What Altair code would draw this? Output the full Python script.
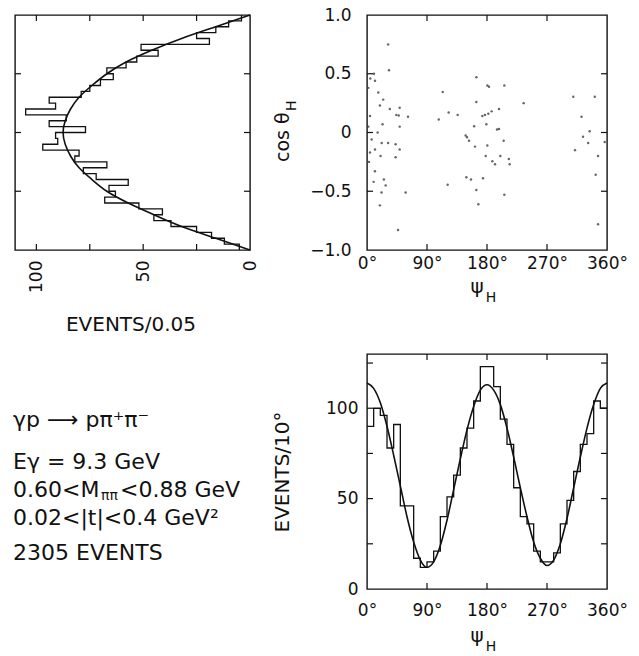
import altair as alt
import pandas as pd

FONT = "DejaVu Sans"

# ---------------- data ----------------
cos_bin_width = 0.05
cos_hist_counts = [4, 10, 16, 25, 19, 51, 43, 53, 58, 67, 64, 70, 75, 79, 94, 91, 105, 86, 94, 77,
                   91, 90, 97, 80, 82, 67, 78, 72, 57, 66, 63, 68, 52, 41, 45, 37, 25, 18, 12, 5]
cos_curve_c = [1.0, 0.9, 0.8, 0.7, 0.6, 0.5, 0.4, 0.3, 0.2, 0.1, 0.0,
               -0.1, -0.2, -0.3, -0.4, -0.5, -0.6, -0.7, -0.8, -0.9, -1.0]
cos_curve_n = [0, 16, 32, 46, 58, 67, 74, 80, 84, 86.5, 87.5,
               86.5, 84, 80, 74, 67, 57, 45, 32, 16, 0]

psi_bin_width = 10
psi_hist_counts = [90, 100, 96, 78, 91, 46, 46, 17, 12, 15, 21, 40, 51, 63, 78, 89, 104, 123,
                   123, 112, 94, 80, 56, 40, 36, 21, 15, 15, 20, 36, 49, 65, 80, 86, 104, 100]
psi_curve_deg = [0, 10, 20, 30, 40, 50, 60, 70, 80, 90, 100, 110, 120, 130, 140, 150, 160, 170,
                 180, 190, 200, 210, 220, 230, 240, 250, 260, 270, 280, 290, 300, 310, 320, 330,
                 340, 350, 360]
psi_curve_n = [114, 111, 103, 90, 74, 57, 40, 26, 16, 12, 15, 24, 38, 55, 72, 88, 101, 110,
               113, 110, 102, 89, 73, 56, 40, 26, 17, 13, 16, 25, 39, 56, 73, 89, 102, 111, 114]

scatter_psi = [31.7, 33, 10.4, 12, 5, 16.9, 24.3, 19.3, 34.2, 49, 44, 47.6, 61.5, 23.3, 49, 4.5,
               16, 7, 22, 31.7, 43, 12, 49, 43, 20.3, 4.5, 11.9, 10, 25.3, 28, 21.8, 58, 19.3,
               46.6, 2, 3, 2,
               107.6, 113.6, 122.5, 136, 121, 164, 164, 180.5, 183, 160.7, 148, 153, 150, 162,
               180.5, 178, 149, 156, 174, 164, 167, 173, 177, 182, 187, 179, 188, 192, 206, 235,
               198, 198, 205, 200, 212.7, 214, 206, 195,
               309.4, 341.7, 321.8, 334, 324, 331.8, 312, 346.6, 343, 346.6, 356.6]
scatter_cos = [0.75, 0.53, 0.50, 0.44, 0.46, 0.34, 0.28, 0.23, 0.20, 0.21, 0.15, 0.145, 0.134,
               0.07, 0.05, 0.14, 0.0, -0.06, -0.09, -0.09, -0.10, -0.145, -0.145, -0.21, -0.20,
               -0.17, -0.33, -0.42, -0.40, -0.45, -0.51, -0.51, -0.62, -0.83, 0.38, -0.25, 0.05,
               0.11, 0.345, 0.17, 0.15, -0.445, 0.47, 0.26, 0.40, 0.39, 0.054, -0.026, -0.07,
               -0.04, -0.12, -0.11, -0.20, -0.38, -0.40, -0.39, -0.49, -0.61, 0.14, 0.15, 0.16,
               0.18, 0.07, -0.245, -0.27, 0.40, 0.25, 0.20, 0.03, -0.07, -0.20, -0.225, -0.27,
               -0.53, 0.026,
               0.305, 0.305, 0.134, 0.01, -0.037, -0.09, -0.15, -0.20, -0.36, -0.78, -0.08]

events_ticks_a = [25, 50, 75, 100]
events_labels_a = [0, 50, 100]
cos_ticks = [-0.5, 0, 0.5]
cos_labels = [-1, -0.5, 0, 0.5, 1]
psi_ticks = [90, 180, 270]
psi_labels = [0, 90, 180, 270, 360]
events_ticks_b = [25, 50, 75, 100, 125]
events_labels_b = [0, 50, 100]

legend_text = ["γp ⟶ pπ⁺π⁻", "Eγ = 9.3 GeV", "0.60<M", "ππ", "<0.88 GeV",
               "0.02<|t|<0.4 GeV²", "2305 EVENTS"]
title_a = "EVENTS/0.05"
title_b = "EVENTS/10°"
title_psi = ["ψ", "H"]
title_cos = ["cos θ", "H"]

# ---------------- layout (pixels) ----------------
WA, WB, H = 235, 240, 235
TL = 6
INK = "#111111"
legend_x = [-2, -2, -2, 86, 105, -2, -2]
legend_y = [66, 108, 136, 142, 136, 164, 199]
legend_size = [22, 22, 22, 14, 22, 22, 22]

one = pd.DataFrame({"a": [0]})


def txt(s, x, y, size=19, angle=0, align="center", baseline="middle"):
    return alt.Chart(one).mark_text(
        font=FONT, fontSize=size, angle=angle, align=align, baseline=baseline, color=INK
    ).encode(x=alt.value(x), y=alt.value(y), text=alt.value(s))


def xticks(vals, scale, height, axis):
    df = pd.DataFrame({"t": vals})
    base = alt.Chart(df).mark_rule(color=INK, strokeWidth=1.2)
    xe = alt.X("t:Q", scale=scale, axis=axis)
    return [base.encode(x=xe, y=alt.value(height), y2=alt.value(height - TL)),
            base.encode(x=xe, y=alt.value(0), y2=alt.value(TL))]


def yticks(vals, scale, width, axis):
    df = pd.DataFrame({"t": vals})
    base = alt.Chart(df).mark_rule(color=INK, strokeWidth=1.2)
    ye = alt.Y("t:Q", scale=scale, axis=axis)
    return [base.encode(y=ye, x=alt.value(0), x2=alt.value(TL)),
            base.encode(y=ye, x=alt.value(width - TL), x2=alt.value(width))]


# ---------------- panel A ----------------
rows = []
for k, v in enumerate(cos_hist_counts):
    hi = 1 - k * cos_bin_width
    rows.append({"i": 2 * k, "events": v, "cos": hi})
    rows.append({"i": 2 * k + 1, "events": v, "cos": hi - cos_bin_width})
histA = pd.DataFrame(rows)
curveA = pd.DataFrame({"i": list(range(len(cos_curve_c))), "events": cos_curve_n,
                       "cos": cos_curve_c})

xsA = alt.Scale(domain=[0, 110], reverse=True, nice=False, zero=False)
ysA = alt.Scale(domain=[-1, 1], nice=False, zero=False)
axA = alt.Axis(values=events_labels_a, labelAngle=270, labelPadding=10, title=None)

stepA = alt.Chart(histA).mark_line(color=INK, strokeWidth=1.3).encode(
    x=alt.X("events:Q", scale=xsA, axis=axA),
    y=alt.Y("cos:Q", scale=ysA, axis=None),
    order=alt.Order("i:Q"),
)
fitA = alt.Chart(curveA).mark_line(color=INK, strokeWidth=1.6, interpolate="natural").encode(
    x=alt.X("events:Q", scale=xsA, axis=axA),
    y=alt.Y("cos:Q", scale=ysA, axis=None),
    order=alt.Order("i:Q"),
)
panelA = alt.layer(
    stepA, fitA, *xticks(events_ticks_a, xsA, H, axA), *yticks(cos_ticks, ysA, WA, None),
    txt(title_a, 116, 310, size=20),
).properties(width=WA, height=H)

# ---------------- panel S ----------------
xsS = alt.Scale(domain=[0, 360], nice=False, zero=False)
ysS = alt.Scale(domain=[-1, 1], nice=False, zero=False)
axSx = alt.Axis(values=psi_labels, labelExpr="datum.value + '°'", labelPadding=5, title=None)
axSy = alt.Axis(values=cos_labels, labelPadding=16, title=None,
                labelExpr="datum.value == 0 ? '0' : format(datum.value, '.1f')")
scat = pd.DataFrame({"psi": scatter_psi, "cos": scatter_cos})
dots = alt.Chart(scat).mark_circle(size=6, color="#333333", opacity=0.75).encode(
    x=alt.X("psi:Q", scale=xsS, axis=axSx),
    y=alt.Y("cos:Q", scale=ysS, axis=axSy),
)
panelS = alt.layer(
    dots, *xticks(psi_ticks, xsS, H, axSx), *yticks(cos_ticks, ysS, WB, axSy),
    txt(title_psi[0], 110, 272, size=20), txt(title_psi[1], 124, 283, size=14),
    txt(title_cos[0], -84, 147, size=19, angle=270, align="left"),
    txt(title_cos[1], -75, 96, size=14, angle=270, align="left"),
).properties(width=WB, height=H)

# ---------------- panel T (text block) ----------------
legend_df = pd.DataFrame({"text": legend_text, "px": legend_x, "py": legend_y,
                          "fs": legend_size})
panelT = alt.Chart(legend_df).mark_text(
    font=FONT, align="left", baseline="middle", color=INK
).encode(
    x=alt.X("px:Q", scale=alt.Scale(domain=[0, WA], range=[0, WA], nice=False, zero=False),
            axis=None),
    y=alt.Y("py:Q", scale=alt.Scale(domain=[0, H], range=[0, H], nice=False, zero=False),
            axis=None),
    text="text:N",
    size=alt.Size("fs:Q", scale=None, legend=None),
).properties(width=WA, height=H, view=alt.ViewBackground(strokeOpacity=0))

# ---------------- panel B ----------------
rows = []
for k, v in enumerate(psi_hist_counts):
    lo = k * psi_bin_width
    rows.append({"i": 2 * k, "psi": lo, "events": v})
    rows.append({"i": 2 * k + 1, "psi": lo + psi_bin_width, "events": v})
histB = pd.DataFrame(rows)
curveB = pd.DataFrame({"psi": psi_curve_deg, "events": psi_curve_n})

xsB = alt.Scale(domain=[0, 360], nice=False, zero=False)
ysB = alt.Scale(domain=[0, 130], nice=False, zero=False)
axBx = alt.Axis(values=psi_labels, labelExpr="datum.value + '°'", labelPadding=13, title=None)
axBy = alt.Axis(values=events_labels_b, labelPadding=9, title=None)
stepB = alt.Chart(histB).mark_line(color=INK, strokeWidth=1.3).encode(
    x=alt.X("psi:Q", scale=xsB, axis=axBx),
    y=alt.Y("events:Q", scale=ysB, axis=axBy),
    order=alt.Order("i:Q"),
)
fitB = alt.Chart(curveB).mark_line(color=INK, strokeWidth=1.6, interpolate="monotone").encode(
    x=alt.X("psi:Q", scale=xsB, axis=axBx),
    y=alt.Y("events:Q", scale=ysB, axis=axBy),
)
panelB = alt.layer(
    stepB, fitB, *xticks(psi_ticks, xsB, H, axBx), *yticks(events_ticks_b, ysB, WB, axBy),
    txt(title_psi[0], 110, 282, size=20), txt(title_psi[1], 124, 293, size=14),
    txt(title_b, -84, 118, size=20, angle=270),
).properties(width=WB, height=H)

chart = alt.concat(
    panelA, panelS, panelT, panelB, columns=2,
    spacing={"row": 104, "column": 117}, bounds="flush",
).properties(
    padding={"left": 13, "top": 5, "right": 4, "bottom": 4}
).configure_view(
    stroke=INK, strokeWidth=1.4
).configure_axis(
    domain=False, ticks=False, grid=False, labelFont=FONT, labelFontSize=17,
    labelColor=INK, titleFont=FONT, labelOverlap=False, labelFlush=False
)

chart.save("out.html", embed_options={"renderer": "svg", "actions": False})
